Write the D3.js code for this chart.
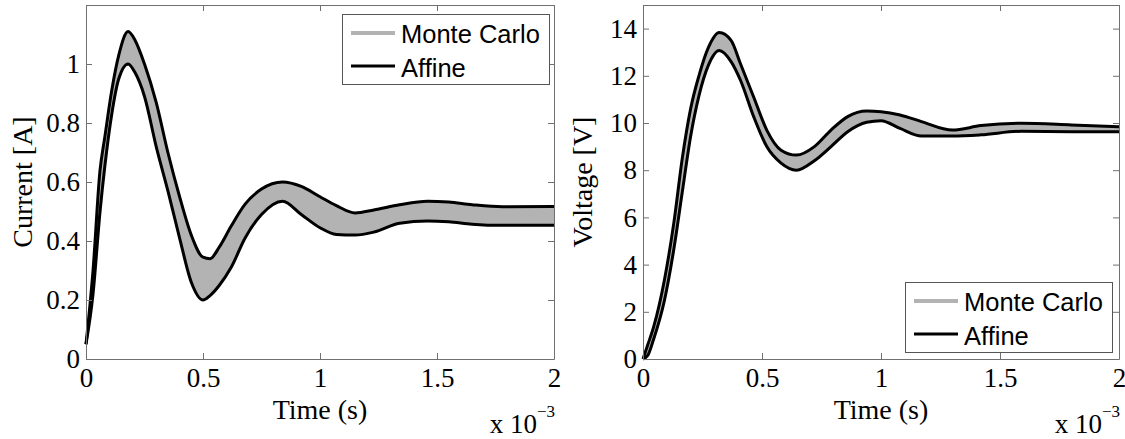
<!DOCTYPE html>
<html>
<head>
<meta charset="utf-8">
<script src="https://cdn.jsdelivr.net/npm/d3@7"></script>
<style>
  body { margin: 0; background: #fff; }
</style>
</head>
<body>
<svg id="chart"></svg>
<script>
// time in units of 1e-3 s
const timeCur = [0, 0.03, 0.06, 0.08, 0.11, 0.14, 0.18, 0.21, 0.25, 0.30, 0.35, 0.40, 0.45, 0.50, 0.53, 0.57, 0.62, 0.68, 0.75, 0.84, 0.92, 1.00, 1.07, 1.15, 1.23, 1.34, 1.46, 1.55, 1.65, 1.78, 2.00];
const curUpper = [0.05, 0.30, 0.64, 0.75, 0.91, 1.03, 1.11, 1.08, 1.00, 0.87, 0.70, 0.55, 0.42, 0.345, 0.34, 0.38, 0.45, 0.525, 0.576, 0.60, 0.585, 0.55, 0.52, 0.495, 0.505, 0.523, 0.535, 0.532, 0.523, 0.516, 0.517];
const curLower = [0.05, 0.22, 0.50, 0.65, 0.83, 0.95, 1.00, 0.97, 0.89, 0.72, 0.57, 0.41, 0.26, 0.20, 0.215, 0.25, 0.31, 0.41, 0.49, 0.535, 0.49, 0.445, 0.422, 0.42, 0.43, 0.46, 0.468, 0.465, 0.457, 0.453, 0.453];

const timeVol = [0, 0.02, 0.045, 0.09, 0.13, 0.165, 0.20, 0.235, 0.275, 0.32, 0.37, 0.41, 0.465, 0.52, 0.58, 0.645, 0.72, 0.79, 0.86, 0.94, 1.00, 1.08, 1.17, 1.30, 1.42, 1.59, 1.80, 2.00];
const volUpper = [0, 0.6, 1.37, 3.35, 5.8, 8.5, 10.6, 12.0, 13.2, 13.83, 13.5, 12.5, 11.1, 9.7, 8.85, 8.64, 9.0, 9.7, 10.27, 10.51, 10.48, 10.34, 10.06, 9.7, 9.89, 9.99, 9.92, 9.84];
const volLower = [0, 0.15, 0.85, 2.48, 4.68, 7.07, 9.43, 11.15, 12.45, 13.07, 12.6, 11.8, 10.27, 9.0, 8.3, 8.0, 8.4, 9.0, 9.63, 10.03, 10.1, 9.77, 9.45, 9.45, 9.5, 9.65, 9.63, 9.63];

const xTicks = [0, 0.5, 1, 1.5, 2];
const curTicks = [0, 0.2, 0.4, 0.6, 0.8, 1];
const volTicks = [0, 2, 4, 6, 8, 10, 12, 14];
const legendLabels = ["Monte Carlo", "Affine"];

const width = 1125, height = 439;
const mcColor = "#b3b3b3";
const axisColor = "#707070";
const serif = "'Liberation Serif', 'Times New Roman', serif";

const svg = d3.select("#chart")
  .attr("width", width)
  .attr("height", height)
  .attr("viewBox", [0, 0, width, height]);

function drawPanel(p) {
  const x = d3.scaleLinear().domain([0, 2]).range([p.left, p.right]);
  const y = d3.scaleLinear().domain(p.yDomain).range([p.bottom, p.top]);

  const rows = d3.range(p.time.length).map(i => ({t: p.time[i], hi: p.upper[i], lo: p.lower[i]}));

  // monte carlo band
  svg.append("path")
    .datum(rows)
    .attr("fill", mcColor)
    .attr("d", d3.area().curve(d3.curveMonotoneX)
      .x(d => x(d.t)).y0(d => y(d.lo)).y1(d => y(d.hi)));

  // affine bounds
  const line = d3.line().curve(d3.curveMonotoneX);
  [p.upper, p.lower].forEach(vals => {
    svg.append("path")
      .datum(rows)
      .attr("fill", "none")
      .attr("stroke", "#000")
      .attr("stroke-width", 3)
      .attr("stroke-linejoin", "round")
      .attr("d", line.x(d => x(d.t)).y((d, i) => y(vals[i])));
  });

  const styleAxis = g => {
    g.attr("font-family", serif).attr("font-size", 27);
    g.selectAll("path, line").attr("stroke", axisColor);
    g.selectAll("text").attr("fill", "#000");
  };

  svg.append("g")
    .attr("transform", `translate(0,${p.bottom})`)
    .call(d3.axisBottom(x).tickValues(xTicks).tickSizeInner(-6).tickSizeOuter(0).tickPadding(9).tickFormat(d => d))
    .call(styleAxis);
  svg.append("g")
    .attr("transform", `translate(0,${p.top})`)
    .call(d3.axisTop(x).tickValues(xTicks).tickSizeInner(-6).tickSizeOuter(0).tickFormat(""))
    .call(styleAxis);
  svg.append("g")
    .attr("transform", `translate(${p.left},0)`)
    .call(d3.axisLeft(y).tickValues(p.yTicks).tickSizeInner(-6).tickSizeOuter(0).tickPadding(6).tickFormat(d => d))
    .call(styleAxis);
  svg.append("g")
    .attr("transform", `translate(${p.right},0)`)
    .call(d3.axisRight(y).tickValues(p.yTicks).tickSizeInner(-6).tickSizeOuter(0).tickFormat(""))
    .call(styleAxis);

  // axis labels
  svg.append("text")
    .attr("x", (p.left + p.right) / 2)
    .attr("y", 419)
    .attr("text-anchor", "middle")
    .attr("font-family", serif)
    .attr("font-size", 28)
    .text("Time (s)");

  svg.append("text")
    .attr("transform", `translate(${p.labelX},${(p.top + p.bottom) / 2}) rotate(-90)`)
    .attr("text-anchor", "middle")
    .attr("font-family", serif)
    .attr("font-size", 28)
    .text(p.yLabel);

  const exp = svg.append("text")
    .attr("x", p.right + 1)
    .attr("y", 433)
    .attr("text-anchor", "end")
    .attr("font-family", serif)
    .attr("font-size", 27);
  exp.append("tspan").text("x 10");
  exp.append("tspan").attr("dy", -16).attr("font-size", 17).text("\u22123");

  // legend
  const lg = svg.append("g").attr("transform", `translate(${p.legend[0]},${p.legend[1]})`);
  lg.append("rect")
    .attr("x", 0.5).attr("y", 0.5)
    .attr("width", 207).attr("height", 70)
    .attr("fill", "#fff")
    .attr("stroke", "#555");
  lg.selectAll("line")
    .data(legendLabels)
    .join("line")
      .attr("x1", 9).attr("x2", 53)
      .attr("y1", (d, i) => 19 + i * 33)
      .attr("y2", (d, i) => 19 + i * 33)
      .attr("stroke", (d, i) => i ? "#000" : mcColor)
      .attr("stroke-width", (d, i) => i ? 3 : 4);
  lg.selectAll("text")
    .data(legendLabels)
    .join("text")
      .attr("x", 59)
      .attr("y", (d, i) => 29 + i * 34)
      .attr("font-family", "'Liberation Sans', Arial, sans-serif")
      .attr("font-size", 25.5)
      .text(d => d);
}

drawPanel({
  left: 86, right: 554, top: 5, bottom: 359,
  yDomain: [0, 1.2], yTicks: curTicks,
  time: timeCur, upper: curUpper, lower: curLower,
  yLabel: "Current [A]", labelX: 32,
  legend: [342, 14]
});

drawPanel({
  left: 643, right: 1119, top: 5, bottom: 359,
  yDomain: [0, 15], yTicks: volTicks,
  time: timeVol, upper: volUpper, lower: volLower,
  yLabel: "Voltage [V]", labelX: 592,
  legend: [905, 282]
});
</script>
</body>
</html>
